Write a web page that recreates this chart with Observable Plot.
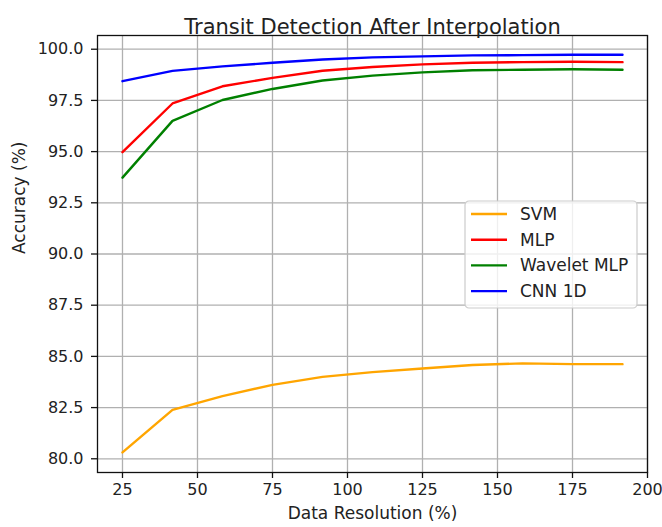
<!DOCTYPE html>
<html>
<head>
<meta charset="utf-8">
<script src="https://cdn.jsdelivr.net/npm/d3@7"></script>
<script src="https://cdn.jsdelivr.net/npm/@observablehq/plot@0.6"></script>
<style>
  html, body { margin: 0; padding: 0; background: #fff; }
  #chart { width: 662px; height: 527px; }
</style>
</head>
<body>
<div id="chart"></div>
<script>
const title = "Transit Detection After Interpolation";
const xLabel = "Data Resolution (%)";
const yLabel = "Accuracy (%)";

const resolution = [25, 41.67, 58.33, 75, 91.67, 108.33, 125, 141.67, 158.33, 175, 191.67];
const seriesNames = ["SVM", "MLP", "Wavelet MLP", "CNN 1D"];
const seriesColors = ["orange", "red", "green", "blue"];

const svm        = [80.31, 82.39, 83.06, 83.61, 84.00, 84.23, 84.41, 84.58, 84.66, 84.62, 84.62];
const mlp        = [94.97, 97.35, 98.19, 98.60, 98.95, 99.13, 99.26, 99.34, 99.37, 99.39, 99.37];
const waveletMlp = [93.73, 96.50, 97.52, 98.06, 98.47, 98.71, 98.87, 98.97, 99.00, 99.02, 99.00];
const cnn1d      = [98.44, 98.94, 99.16, 99.34, 99.50, 99.60, 99.65, 99.70, 99.71, 99.73, 99.73];

const xTicks = [25, 50, 75, 100, 125, 150, 175, 200];
const yTicks = [80, 82.5, 85, 87.5, 90, 92.5, 95, 97.5, 100];

const seriesValues = [svm, mlp, waveletMlp, cnn1d];
const data = [];
seriesNames.forEach((name, i) => {
  resolution.forEach((x, j) => data.push({series: name, x, y: seriesValues[i][j]}));
});

const font = "DejaVu Sans, sans-serif";
const textColor = "#222";

const chart = Plot.plot({
  width: 662,
  height: 527,
  marginLeft: 97,
  marginRight: 15,
  marginTop: 35,
  marginBottom: 55,
  style: {fontFamily: font, fontSize: "16px", color: textColor, background: "#fff"},
  x: {domain: [16.67, 200]},
  y: {domain: [79.33, 100.67]},
  color: {domain: seriesNames, range: seriesColors},
  marks: [
    Plot.gridX(xTicks, {stroke: "#b0b0b0", strokeOpacity: 1, strokeWidth: 1.3}),
    Plot.gridY(yTicks, {stroke: "#b0b0b0", strokeOpacity: 1, strokeWidth: 1.3}),
    Plot.line(data, {x: "x", y: "y", z: "series", stroke: "series", strokeWidth: 2.4}),
    Plot.frame({stroke: "#111", strokeWidth: 1.3}),
    Plot.axisX(xTicks, {label: null, tickSize: 6, tickPadding: 5, stroke: "#111", strokeWidth: 1.3, fill: textColor}),
    Plot.axisY(yTicks, {label: null, tickSize: 6, tickPadding: 8, tickFormat: d3.format(".1f"), stroke: "#111", strokeWidth: 1.3, fill: textColor}),
    Plot.text([title], {text: d => d, frameAnchor: "top", dy: -16, fontSize: 21, fill: textColor}),
    Plot.text([xLabel], {text: d => d, frameAnchor: "bottom", dy: 46, fontSize: 17, fill: textColor}),
    Plot.text([yLabel], {text: d => d, frameAnchor: "left", dx: -78, rotate: -90, fontSize: 17, fill: textColor})
  ]
});
document.getElementById("chart").appendChild(chart);

// Legend (inside the plot, right-middle)
const svg = d3.select(chart);
const lg = svg.append("g").attr("transform", "translate(465,201)");
lg.append("rect")
  .attr("width", 172).attr("height", 107).attr("rx", 4)
  .attr("fill", "#fff").attr("fill-opacity", 0.8)
  .attr("stroke", "#cccccc").attr("stroke-width", 1.2);
seriesNames.forEach((name, i) => {
  const cy = 13 + i * 25.7;
  lg.append("line").attr("x1", 6).attr("x2", 42).attr("y1", cy).attr("y2", cy)
    .attr("stroke", seriesColors[i]).attr("stroke-width", 2.4);
  lg.append("text").attr("x", 55).attr("y", cy).attr("dy", "0.35em")
    .attr("text-anchor", "start")
    .attr("fill", textColor).attr("font-family", font).attr("font-size", 17)
    .text(name);
});
</script>
</body>
</html>
